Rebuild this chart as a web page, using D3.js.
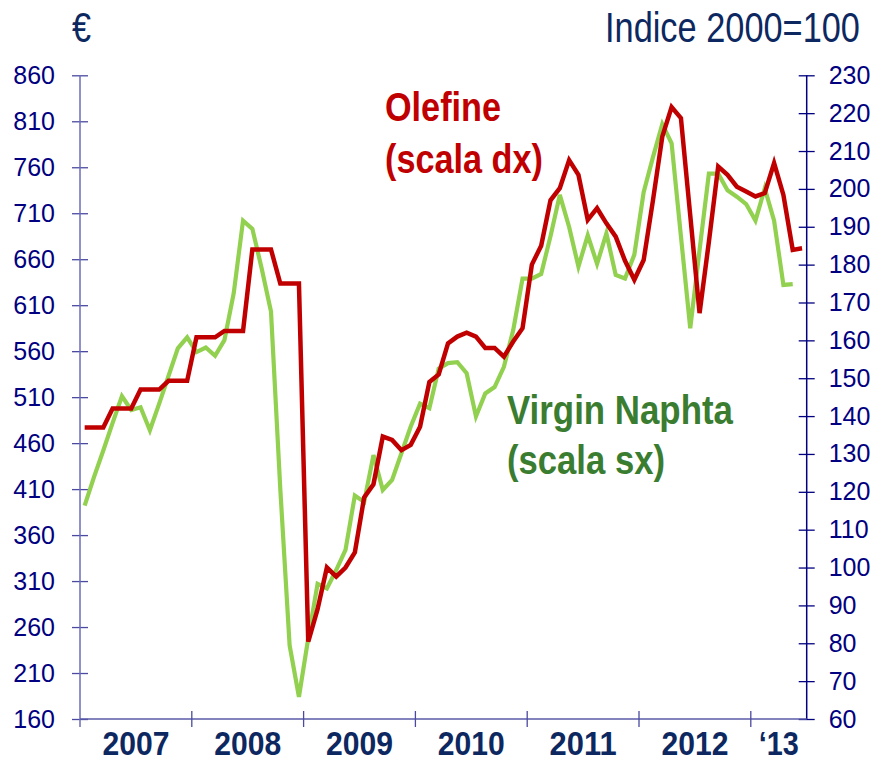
<!DOCTYPE html>
<html>
<head>
<meta charset="utf-8">
<script src="https://cdn.jsdelivr.net/npm/d3@7"></script>
<style>
  body { margin: 0; background: #fff; }
  text { font-family: "Liberation Sans", Arial, sans-serif; }
</style>
</head>
<body>
<svg width="876" height="763"></svg>
<script>
// Monthly data, Jan 2007 - Jun 2013
const yearLabels = ["2007", "2008", "2009", "2010", "2011", "2012", "‘13"];
const monthCount = 78;

// Virgin Naphta, €/t (left scale), Jan 2007 - May 2013
const naphta = [
  392, 423, 452, 482, 511, 496, 499, 474, 503, 533, 563, 575,
  559, 564, 555, 572, 623, 702, 693, 650, 603, 410, 240, 184,
  248, 307, 302, 322, 344, 403, 396, 447, 409, 420, 449, 478,
  503, 498, 541, 547, 548, 536, 489, 514, 521, 543, 583, 639,
  639, 644, 685, 730, 695, 652, 686, 655, 688, 643, 639, 665,
  733, 771, 807, 786, 685, 585, 670, 753, 753, 735, 728, 720,
  702, 737, 702, 632, 633
];

// Olefine, indice 2000=100 (right scale), Jan 2007 - Jun 2013
const olefine = [
  137, 137, 137, 142, 142, 142, 147, 147, 147, 149.3, 149.3, 149.3,
  160.8, 160.8, 160.8, 162.5, 162.5, 162.5, 184, 184, 184, 175, 175, 175,
  80.4, 89, 100, 97.6, 100, 104, 118.5, 122, 134.6, 133.7, 131, 132.4,
  137.2, 149, 151, 159.2, 161, 162, 161, 158, 158, 155.7, 159.7, 163.2,
  180, 185, 197, 200.2, 207.6, 203.7, 191.8, 194.9, 190.9, 187.4, 181, 176,
  181.2, 197, 213.8, 221.6, 218.7, 193, 167.2, 186, 205.9, 203.7, 200.6, 199.3,
  198, 198.9, 206.8, 198.4, 183.9, 184.3
];

const leftTicks = d3.range(160, 861, 50);
const rightTicks = d3.range(60, 231, 10);

const svg = d3.select("svg");
const plotLeft = 80, plotRight = 806.7, plotTop = 75.3, plotBottom = 719;

const x = d3.scaleLinear().domain([0, monthCount]).range([plotLeft, plotRight]);
const yL = d3.scaleLinear().domain([160, 860]).range([plotBottom, plotTop]);
const yR = d3.scaleLinear().domain([60, 230]).range([plotBottom, plotTop]);

const navy = "#000080";

// text squeezed horizontally to the narrow look of the original
function narrowText(txt, xPos, yPos, w, size, color, bold, anchor) {
    const g = svg.append("g");
    const t = g.append("text")
        .attr("fill", color)
        .style("font-size", size + "px")
        .style("font-weight", bold ? "bold" : "normal")
        .attr("text-anchor", anchor || "start")
        .text(txt);
    const k = w / t.node().getComputedTextLength();
    g.attr("transform", `translate(${xPos},${yPos}) scale(${k},1)`);
    return t;
}

// Left axis
const gL = svg.append("g")
    .attr("transform", `translate(${plotLeft},0)`)
    .call(d3.axisLeft(yL).tickValues(leftTicks).tickSize(8).tickPadding(17));
gL.select(".domain").remove();
gL.append("line").attr("y1", plotTop).attr("y2", plotBottom + 8).attr("stroke", "#6c6cb8").attr("stroke-width", 1.5);
gL.selectAll(".tick line").attr("x2", -8).attr("x1", 8).attr("stroke", "#4a4aa0").attr("stroke-width", 1.3);
gL.selectAll(".tick text").attr("fill", navy).style("font-size", "25px");

// Right axis
const gR = svg.append("g")
    .attr("transform", `translate(${plotRight},0)`)
    .call(d3.axisRight(yR).tickValues(rightTicks).tickSize(8).tickPadding(14));
gR.select(".domain").remove();
gR.append("line").attr("y1", plotTop).attr("y2", plotBottom).attr("stroke", navy).attr("stroke-width", 1.5);
gR.selectAll(".tick line").attr("x1", -8).attr("x2", 8).attr("stroke", navy).attr("stroke-width", 1.3);
gR.selectAll(".tick text").attr("fill", navy).style("font-size", "25px");

// Bottom axis: year boundaries
const gX = svg.append("g");
gX.append("line").attr("x1", plotLeft).attr("x2", plotRight).attr("y1", plotBottom).attr("y2", plotBottom)
    .attr("stroke", "#5a5aa8").attr("stroke-width", 1.5);
gX.selectAll(".yt").data(d3.range(1, yearLabels.length)).join("line")
    .attr("x1", d => x(d * 12)).attr("x2", d => x(d * 12))
    .attr("y1", plotBottom - 8).attr("y2", plotBottom + 8)
    .attr("stroke", "#4a4aa0").attr("stroke-width", 1.3);
yearLabels.forEach((d, i) => {
    const mid = x((i * 12 + Math.min(i * 12 + 12, monthCount)) / 2);
    narrowText(d, mid, 755, d.length === 4 ? 67 : 40, 34, "#0d2860", true, "middle");
});

// Lines
const lineL = d3.line().x((d, i) => x(i + 0.5)).y(d => yL(d));
const lineR = d3.line().x((d, i) => x(i + 0.5)).y(d => yR(d));

svg.append("path").datum(naphta)
    .attr("d", lineL).attr("fill", "none")
    .attr("stroke", "#92d050").attr("stroke-width", 4.2);
svg.append("path").datum(olefine)
    .attr("d", lineR).attr("fill", "none")
    .attr("stroke", "#c00000").attr("stroke-width", 4.5);

// Titles
narrowText("€", 72, 42, 19, 42, "#0d2860", false);
narrowText("Indice 2000=100", 605, 42, 255, 42, "#0d2860", false);

// Series labels
narrowText("Olefine", 385, 121, 116, 41, "#c00000", true);
narrowText("(scala dx)", 385, 173, 158, 41, "#c00000", true);
narrowText("Virgin Naphta", 507, 424, 226, 41, "#3a7d30", true);
narrowText("(scala sx)", 507, 474, 158, 41, "#3a7d30", true);
</script>
</body>
</html>
